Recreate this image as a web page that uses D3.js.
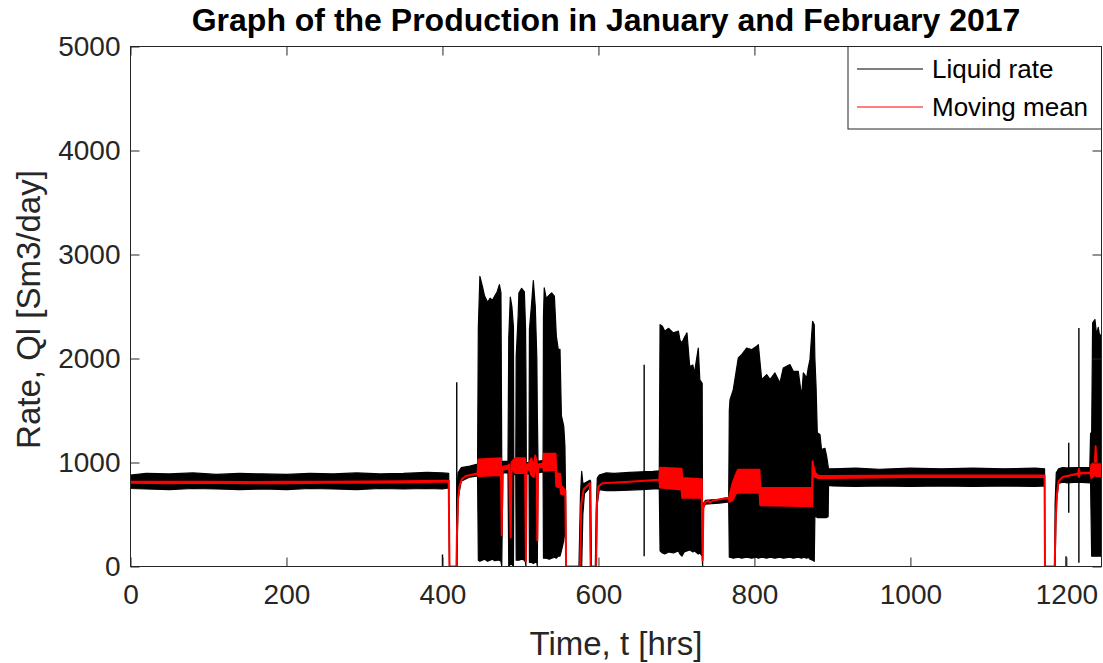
<!DOCTYPE html>
<html>
<head>
<meta charset="utf-8">
<script src="https://cdn.jsdelivr.net/npm/d3@7"></script>
<style>
  body { margin: 0; background: #fff; }
  svg { display: block; font-family: "Liberation Sans", Arial, Helvetica, sans-serif; }
  .tick text { fill: #262626; }
  .tick line { stroke: #262626; }
</style>
</head>
<body>
<div id="chart"></div>
<script>

// liquid rate envelope: [time (hrs), lowest value, highest value] in Sm3/day
const liquidRate = [
  [0, 750, 880], [20, 745, 895], [50, 740, 890], [80, 750, 900], [110, 745, 885],
  [140, 740, 895], [170, 745, 890], [200, 740, 885], [230, 750, 895], [260, 745, 890],
  [290, 740, 900], [320, 750, 890], [350, 745, 895], [380, 750, 905], [400, 745, 900],
  [408, 755, 895], [409, 0, 0], [418, 0, 0], [418.5, 0, 700], [420, 650, 900],
  [424, 820, 950], [435, 860, 965], [445, 870, 985],
  [446, 60, 2300], [448, 50, 2790], [451, 60, 2700], [454, 70, 2600], [458, 50, 2540],
  [461, 60, 2580], [464, 70, 2560], [467, 55, 2600], [470, 60, 2640], [473, 60, 2710],
  [475, 50, 2630], [476, 0, 1000], [477.5, 900, 1010], [484, 900, 1010],
  [485, 0, 2200], [487, 20, 2590], [489, 20, 2500], [491, 0, 2300], [491.5, 880, 1000],
  [494, 890, 1010], [494.5, 60, 2020], [497, 60, 2400], [498, 60, 2630], [501.5, 70, 2675],
  [505, 60, 2640], [506.5, 40, 2300], [507, 0, 1900], [507.5, 890, 1000], [511, 890, 1000],
  [511.5, 40, 2280], [514, 40, 2500], [516.5, 30, 2750], [519, 40, 2500], [521, 40, 2000],
  [521.6, 0, 1500], [522.5, 900, 1010], [529, 910, 1020],
  [529.5, 80, 2400], [530.5, 80, 2680], [533, 80, 2580], [537, 70, 2610], [540, 80, 2630],
  [543.5, 90, 2600], [546, 80, 2215], [548.5, 100, 2085], [550.7, 100, 2087],
  [552.5, 150, 1450], [555.5, 250, 1350], [557, 340, 1160], [558, 380, 600],
  [558.5, 0, 0], [575, 0, 0], [577, 0, 700], [578.5, 0, 916], [580, 500, 800],
  [582, 700, 800], [589, 760, 830], [590, 0, 820], [591, 0, 0], [596, 0, 0],
  [597, 0, 500], [598.5, 600, 850], [601, 740, 880], [610, 730, 900], [620, 730, 895],
  [640, 735, 905], [655, 740, 910], [670, 745, 915], [678, 745, 920],
  [679, 150, 2325], [682, 130, 2310], [685, 120, 2263], [690, 140, 2290], [696, 130, 2246],
  [702.5, 150, 2263], [704.5, 120, 2178], [707, 100, 2150], [710, 140, 2200], [713.5, 150, 2246],
  [717, 160, 1922], [721, 140, 1938], [723, 150, 1858], [728, 120, 2101], [730, 130, 1794],
  [733, 100, 1762], [733.6, 0, 0], [734.2, 560, 600], [737, 600, 635], [745, 605, 640],
  [755, 610, 645], [767, 620, 665],
  [767.8, 90, 1500], [768.7, 90, 1605], [772.9, 80, 1701], [779.3, 90, 2006], [783.6, 80, 2037],
  [790, 90, 2101], [796.4, 80, 2085], [802.8, 90, 2117], [805, 80, 2133], [809.3, 90, 1797],
  [815.7, 80, 1845], [820, 90, 1797], [826.3, 80, 1861], [832.7, 90, 1765], [837, 80, 1909],
  [845.5, 90, 1941], [849.8, 80, 1877], [856.2, 90, 1877], [860.5, 80, 1637], [862.7, 90, 1861],
  [867, 80, 1813], [869, 90, 1909], [871.2, 70, 1989], [874.6, 60, 2357], [876.7, 50, 2325],
  [877.5, 480, 2000], [879, 480, 1733], [880.6, 470, 1285], [884, 470, 1270], [886, 470, 1124],
  [890.4, 470, 1137], [892.6, 470, 1060], [894.5, 480, 964], [895, 780, 940],
  [900, 775, 940], [930, 770, 945], [960, 775, 935], [1000, 770, 945], [1040, 775, 940],
  [1080, 770, 945], [1120, 775, 940], [1160, 770, 945], [1172, 775, 940], [1172.5, 0, 0],
  [1185, 0, 0], [1185.5, 0, 600], [1187, 600, 900], [1190, 800, 940], [1195, 810, 950],
  [1200, 805, 948], [1215, 810, 950], [1230, 805, 950],
  [1231, 800, 1280], [1232.4, 99, 1285], [1233.6, 99, 2342], [1236.6, 99, 2374],
  [1238.7, 99, 2230], [1240.8, 99, 2300], [1243, 99, 2200], [1245, 99, 2240]
]

// single readings that stick out of the band: [time, from, to]
const liquidSpikes = [
  [400, 0, 115], [418.3, 0, 1771], [658.6, 99, 1941],
  [1199.5, 0, 99], [1203, 516, 1189], [1216, 36, 2294]
]

// moving mean: [time, lowest value, highest value]
const movingMean = [
  [0, 805, 815], [50, 800, 815], [100, 805, 815], [150, 800, 812], [200, 800, 815],
  [250, 805, 815], [300, 805, 818], [350, 810, 820], [400, 815, 825], [408, 815, 825],
  [409, 0, 0], [418, 0, 0], [418.5, 300, 300], [420, 650, 650], [422, 780, 780],
  [425, 840, 840], [430, 870, 870], [445, 890, 895],
  [446, 870, 1030], [475, 880, 1040], [476, 300, 300], [477, 930, 960], [484, 940, 970],
  [485.5, 940, 980], [487.5, 280, 280], [488.5, 950, 1000], [493, 900, 1040],
  [506, 900, 1040], [507, 50, 50], [508, 920, 980], [511, 940, 990],
  [514, 880, 1040], [517, 860, 950], [519, 950, 1067], [521, 900, 1000], [521.6, 250, 250],
  [522.5, 950, 980], [529, 960, 990], [530, 920, 1085], [545, 930, 1085],
  [546, 770, 900], [551, 760, 890], [552, 700, 780], [557.5, 690, 730],
  [558.5, 0, 0], [576.5, 0, 0], [578, 600, 600], [581, 740, 740], [589, 800, 800],
  [590, 0, 0], [597, 0, 0], [598, 600, 600], [600, 770, 770], [605, 800, 800],
  [640, 815, 815], [678, 835, 835],
  [679, 760, 950], [706.5, 740, 940], [707.5, 660, 850], [732.5, 660, 840],
  [733.6, 60, 60], [734.5, 560, 560], [737, 620, 620], [741, 630, 630], [743, 615, 615],
  [747, 635, 635], [767, 660, 660],
  [768, 620, 680], [772, 640, 800], [776, 700, 880], [779, 710, 930], [806.5, 710, 930],
  [807.5, 590, 756], [874, 580, 756], [874.6, 870, 1012], [876, 880, 950], [878, 860, 900],
  [882, 850, 870], [895, 850, 870], [950, 855, 872], [1000, 860, 875], [1100, 860, 875],
  [1172, 860, 875], [1172.5, 0, 0], [1185, 0, 0], [1186, 400, 400], [1188, 700, 700],
  [1190, 820, 820], [1195, 860, 860], [1215, 890, 895], [1216, 860, 940], [1217, 895, 900],
  [1231, 900, 905], [1232, 850, 980], [1236.5, 880, 1000], [1237.5, 880, 1156],
  [1238.5, 870, 990], [1245, 868, 980]
]

const xTicks = [0, 200, 400, 600, 800, 1000, 1200]
const yTicks = [0, 1000, 2000, 3000, 4000, 5000]
const legendLabels = ["Liquid rate", "Moving mean"]
const seriesColors = ["#000000", "#ff0000"]

function drawChart() {

  // 1. Access data
  const timeAccessor = d => d[0]
  const lowAccessor = d => d[1]
  const highAccessor = d => d[2]

  // 2. Create chart dimensions
  let dimensions = {
    width: 1103,
    height: 663,
    margin: {
      top: 46.5,
      right: 1.5,
      bottom: 96.5,
      left: 130.5,
    },
  }
  dimensions.boundedWidth = dimensions.width
    - dimensions.margin.left
    - dimensions.margin.right
  dimensions.boundedHeight = dimensions.height
    - dimensions.margin.top
    - dimensions.margin.bottom

  // 3. Draw canvas
  const wrapper = d3.select("#chart")
    .append("svg")
      .attr("width", dimensions.width)
      .attr("height", dimensions.height)

  const bounds = wrapper.append("g")
      .attr("transform", `translate(${dimensions.margin.left}, ${dimensions.margin.top})`)

  bounds.append("defs").append("clipPath")
      .attr("id", "bounds-clip-path")
    .append("rect")
      .attr("width", dimensions.boundedWidth)
      .attr("height", dimensions.boundedHeight)

  const clip = bounds.append("g")
    .attr("clip-path", "url(#bounds-clip-path)")

  // 4. Create scales
  const xScale = d3.scaleLinear()
    .domain([0, 1245])
    .range([0, dimensions.boundedWidth])

  const yScale = d3.scaleLinear()
    .domain([0, 5000])
    .range([dimensions.boundedHeight, 0])

  // 5. Draw data
  const areaGenerator = d3.area()
    .x(d => xScale(timeAccessor(d)))
    .y0(d => yScale(lowAccessor(d)))
    .y1(d => yScale(highAccessor(d)))

  clip.append("path")
      .attr("class", "liquid-rate")
      .attr("d", areaGenerator(liquidRate))
      .attr("fill", seriesColors[0])
      .attr("stroke", seriesColors[0])
      .attr("stroke-width", 1.2)
      .attr("stroke-linejoin", "round")

  clip.selectAll(".spike")
    .data(liquidSpikes)
    .join("line")
      .attr("class", "spike")
      .attr("x1", d => xScale(timeAccessor(d)))
      .attr("x2", d => xScale(timeAccessor(d)))
      .attr("y1", d => yScale(lowAccessor(d)))
      .attr("y2", d => yScale(highAccessor(d)))
      .attr("stroke", seriesColors[0])
      .attr("stroke-width", 1.4)

  clip.append("path")
      .attr("class", "moving-mean")
      .attr("d", areaGenerator(movingMean))
      .attr("fill", seriesColors[1])
      .attr("stroke", seriesColors[1])
      .attr("stroke-width", 2)
      .attr("stroke-linejoin", "round")

  // 6. Draw peripherals
  const xAxisGenerator = d3.axisBottom()
    .scale(xScale)
    .tickValues(xTicks)
    .tickFormat(d3.format("d"))
    .tickSizeInner(-9)
    .tickSizeOuter(0)
    .tickPadding(18)

  const xAxis = bounds.append("g")
      .attr("class", "x-axis")
      .attr("transform", `translate(0, ${dimensions.boundedHeight})`)
    .call(xAxisGenerator)
  xAxis.select(".domain").remove()
  xAxis.selectAll("text").attr("font-size", 28).style("font-family", "inherit")

  const xAxisTop = bounds.append("g")
    .call(d3.axisTop(xScale).tickValues(xTicks).tickSizeInner(-9).tickSizeOuter(0).tickFormat(""))
  xAxisTop.select(".domain").remove()

  const yAxisGenerator = d3.axisLeft()
    .scale(yScale)
    .tickValues(yTicks)
    .tickFormat(d3.format("d"))
    .tickSizeInner(-9)
    .tickSizeOuter(0)
    .tickPadding(10)

  const yAxis = bounds.append("g")
      .attr("class", "y-axis")
    .call(yAxisGenerator)
  yAxis.select(".domain").remove()
  yAxis.selectAll("text").attr("font-size", 28).style("font-family", "inherit")

  const yAxisRight = bounds.append("g")
      .attr("transform", `translate(${dimensions.boundedWidth}, 0)`)
    .call(d3.axisRight(yScale).tickValues(yTicks).tickSizeInner(-9).tickSizeOuter(0).tickFormat(""))
  yAxisRight.select(".domain").remove()

  bounds.append("rect")
      .attr("width", dimensions.boundedWidth)
      .attr("height", dimensions.boundedHeight)
      .attr("fill", "none")
      .attr("stroke", "#262626")
      .attr("stroke-width", 1)

  wrapper.append("text")
      .attr("x", dimensions.margin.left + dimensions.boundedWidth / 2 - 10)
      .attr("y", 31)
      .attr("text-anchor", "middle")
      .attr("font-size", 32)
      .attr("font-weight", "bold")
      .attr("fill", "#000")
      .text("Graph of the Production in January and February 2017")

  wrapper.append("text")
      .attr("x", dimensions.margin.left + dimensions.boundedWidth / 2)
      .attr("y", 655)
      .attr("text-anchor", "middle")
      .attr("font-size", 33)
      .attr("fill", "#262626")
      .text("Time, t [hrs]")

  wrapper.append("text")
      .attr("transform", `translate(40, ${dimensions.margin.top + dimensions.boundedHeight / 2 + 3}) rotate(-90)`)
      .attr("text-anchor", "middle")
      .attr("font-size", 33)
      .attr("fill", "#262626")
      .text("Rate, Ql [Sm3/day]")

  // legend
  const legend = bounds.append("g")
      .attr("transform", `translate(${dimensions.boundedWidth - 253.5}, 0)`)

  legend.append("rect")
      .attr("width", 253.5)
      .attr("height", 82.5)
      .attr("fill", "#fff")
      .attr("stroke", "#262626")
      .attr("stroke-width", 1)

  const legendItems = legend.selectAll(".legend-item")
    .data(legendLabels)
    .join("g")
      .attr("class", "legend-item")
      .attr("transform", (d, i) => `translate(0, ${22.5 + i * 38})`)

  legendItems.append("line")
      .attr("x1", 9)
      .attr("x2", 75)
      .attr("stroke", (d, i) => seriesColors[i])
      .attr("stroke-width", 1.2)

  legendItems.append("text")
      .attr("x", 84)
      .attr("dy", "0.35em")
      .attr("font-size", 26)
      .attr("fill", "#000")
      .text(d => d)
}

drawChart()
</script>
</body>
</html>
